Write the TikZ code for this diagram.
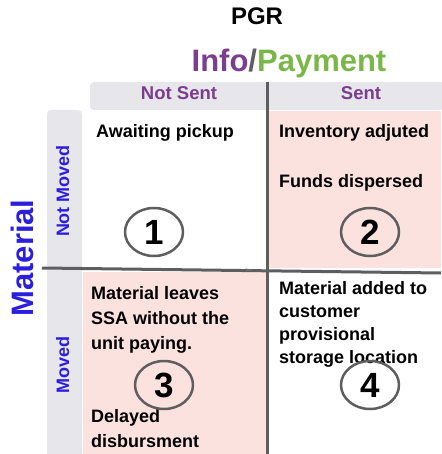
\documentclass[tikz,border=0pt]{standalone}
\usepackage{fontspec}
\setmainfont{Liberation Sans}
\usetikzlibrary{shapes.geometric}
\definecolor{infopurple}{HTML}{7B3D8E}
\definecolor{paygreen}{HTML}{7AB648}
\definecolor{matblue}{HTML}{2B1FDC}
\definecolor{barsgray}{HTML}{E6E6EB}
\definecolor{quadpink}{HTML}{FCE2DE}
\definecolor{linegray}{HTML}{5E5E5E}
\begin{document}
\begin{tikzpicture}[x=1pt, y=-1pt, line join=round, line cap=round,
  body/.style={font=\fontsize{18}{24}\selectfont\bfseries, inner sep=0pt, align=left, anchor=north west},
  num/.style={ellipse, draw=linegray, line width=2.5pt, minimum width=58pt, minimum height=48pt, inner sep=0pt, font=\fontsize{35}{35}\selectfont\bfseries},
  head/.style={font=\fontsize{18.5}{18.5}\selectfont\bfseries, text=infopurple, anchor=base, inner sep=0pt},
  side/.style={font=\fontsize{18}{18}\selectfont\bfseries, text=matblue, rotate=90, anchor=base, inner sep=0pt}]
\useasboundingbox (0,0) rectangle (441,454);
% grey bars
\fill[barsgray, rounded corners=4pt] (90,82) rectangle (445,110);
\fill[barsgray, rounded corners=4pt] (47,110) rectangle (82,458);
% pink quadrants
\fill[quadpink] (269,111) rectangle (441,268);
\fill[quadpink] (83,272) rectangle (266,454);
% dividers
\coordinate (vtop) at (267,82);
\coordinate (vbot) at (267,454);
\coordinate (hleft) at (42,268);
\coordinate (hright) at (441,273);
\draw[linegray, line width=3pt, line cap=butt] (vtop) -- (vbot);
\draw[linegray, line width=3pt, line cap=butt] (hleft) -- (hright);
\node[font=\fontsize{4}{4}\selectfont, text=gray, inner sep=0pt] (tiny) at (249,270) {Text};
% titles
\node[font=\fontsize{24}{24}\selectfont\bfseries, anchor=base, inner sep=0pt] (pgr) at (257,25) {PGR};
\node[font=\fontsize{31}{31}\selectfont\bfseries, anchor=base, inner sep=0pt] (info) at (289,72)
  {\textcolor{infopurple}{Info}\textcolor{linegray}{/}\textcolor{paygreen}{Payment}};
\node[head] (notsent) at (179,100) {Not Sent};
\node[head] (sent) at (361,100) {Sent};
\node[side, font=\fontsize{31}{31}\selectfont\bfseries] (material) at (33,258) {Material};
\node[side] (notmoved) at (69,191) {Not Moved};
\node[side] (moved) at (69,365) {Moved};
% quadrant texts
\node[body] (q1) at (96,124) {Awaiting pickup};
\node[body] (q2a) at (279,124) {Inventory adjuted};
\node[body] (q2b) at (279,174) {Funds dispersed};
\node[body, font=\fontsize{18}{25}\selectfont\bfseries] (q3a) at (91,286) {Material leaves\\SSA without the\\unit paying.};
\node[body, font=\fontsize{18}{25}\selectfont\bfseries] (q3b) at (91,409) {Delayed\\disbursment};
\node[body, font=\fontsize{18}{23}\selectfont\bfseries] (q4) at (279,281) {Material added to\\customer\\provisional\\storage location};
% numbers
\node[num] (n1) at (154,232) {1};
\node[num] (n2) at (370,232) {2};
\node[num] (n3) at (164,385) {3};
\node[num] (n4) at (370,385) {4};
\end{tikzpicture}
\end{document}
